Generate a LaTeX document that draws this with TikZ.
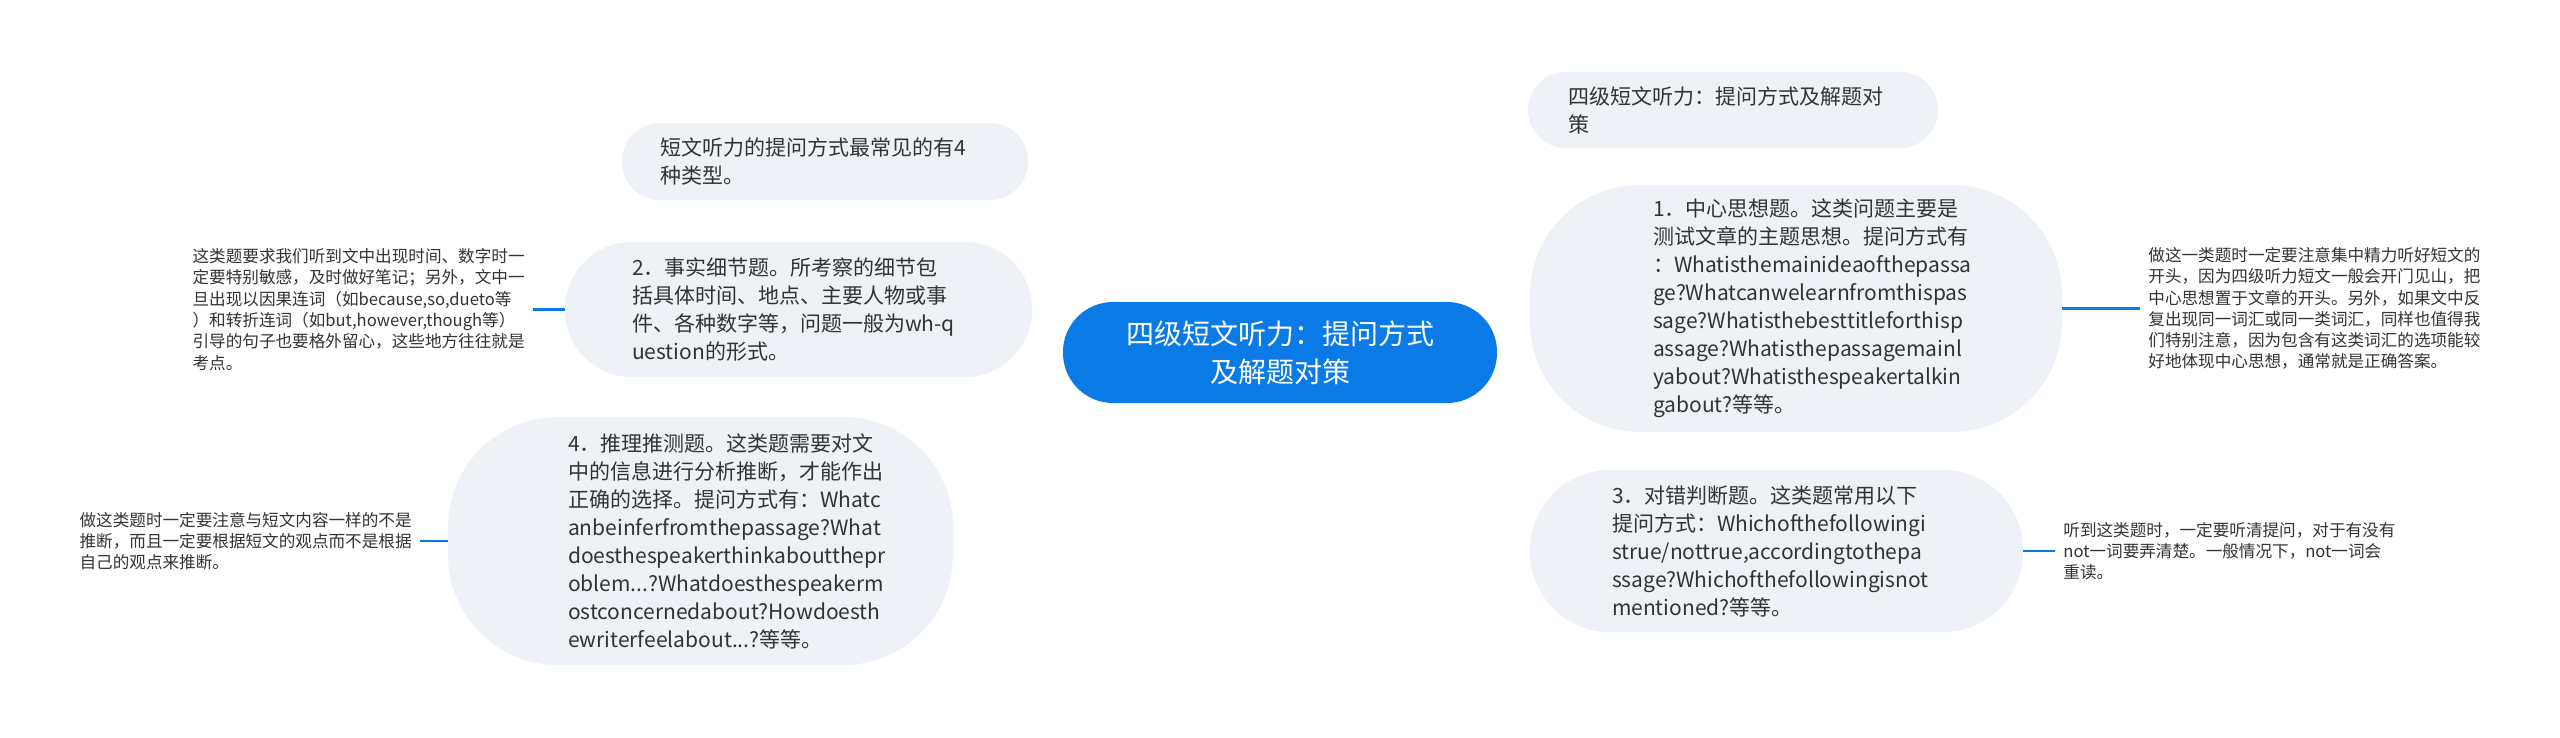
\documentclass[tikz,border=0pt]{standalone}
\usepackage{fontspec}
\setmainfont{Noto Sans CJK SC}
\usepackage{tikz}
\usetikzlibrary{positioning,calc,backgrounds}
\definecolor{mapblue}{HTML}{0A7BE6}
\definecolor{topicgray}{HTML}{EEF1F5}
\definecolor{textdark}{HTML}{333333}

\begin{document}
\begin{tikzpicture}[
    x=1pt, y=-1pt,
    root/.style={rectangle, fill=mapblue, text=white, rounded corners=50pt, minimum width=434pt, minimum height=101pt, align=center, font=\fontsize{28}{38}\selectfont},
    topicbox/.style={rectangle, fill=topicgray, inner sep=0pt},
    topictext/.style={anchor=west, text=textdark, align=left, inner sep=0pt, font=\fontsize{21}{28}\selectfont},
    note/.style={rectangle, text=textdark, align=left, inner xsep=8pt, inner ysep=0pt, font=\fontsize{16.6}{21.3}\selectfont},
    link/.style={draw=mapblue, line width=2.2pt},
]
\useasboundingbox[fill=white] (0,0) rectangle (2560,737);
% Root
\node[root] (root) at (1280,352.5) {四级短文听力：提问方式\\及解题对策};
% Right branch
\node[topicbox, minimum width=410pt, minimum height=76pt, rounded corners=38pt] (title) at (1733,110) {};
\node[topictext, right=40pt of title.west] (titletext) {四级短文听力：提问方式及解题对\\策};
\node[topicbox, minimum width=532pt, minimum height=247pt, rounded corners=110pt] (main) at (1796,308.5) {};
\node[topictext, right=123pt of main.west] (maintext) {1．中心思想题。这类问题主要是\\测试文章的主题思想。提问方式有\\：Whatisthemainideaofthepassa\\ge?Whatcanwelearnfromthispas\\sage?Whatisthebesttitleforthisp\\assage?Whatisthepassagemainl\\yabout?Whatisthespeakertalkin\\gabout?等等。};
\node[topicbox, minimum width=493pt, minimum height=162pt, rounded corners=80pt] (judge) at (1776.5,551) {};
\node[topictext, right=82pt of judge.west] (judgetext) {3．对错判断题。这类题常用以下\\提问方式：Whichofthefollowingi\\strue/nottrue,accordingtothepa\\ssage?Whichofthefollowingisnot\\mentioned?等等。};
% Left branch
\node[topicbox, minimum width=406pt, minimum height=77pt, rounded corners=38pt] (types) at (825,161.5) {};
\node[topictext, right=38pt of types.west] (typestext) {短文听力的提问方式最常见的有4\\种类型。};
\node[topicbox, minimum width=467pt, minimum height=135pt, rounded corners=67pt] (detail) at (798.5,309.5) {};
\node[topictext, right=67pt of detail.west] (detailtext) {2．事实细节题。所考察的细节包\\括具体时间、地点、主要人物或事\\件、各种数字等，问题一般为wh-q\\uestion的形式。};
\node[topicbox, minimum width=505pt, minimum height=248pt, rounded corners=110pt] (infer) at (700.5,541) {};
\node[topictext, right=120pt of infer.west] (infertext) {4．推理推测题。这类题需要对文\\中的信息进行分析推断，才能作出\\正确的选择。提问方式有：Whatc\\anbeinferfromthepassage?What\\doesthespeakerthinkaboutthepr\\oblem...?Whatdoesthespeakerm\\ostconcernedabout?Howdoesth\\ewriterfeelabout...?等等。};
% Notes
\node[note, right=78pt of main] (mainnote) {做这一类题时一定要注意集中精力听好短文的\\开头，因为四级听力短文一般会开门见山，把\\中心思想置于文章的开头。另外，如果文中反\\复出现同一词汇或同一类词汇，同样也值得我\\们特别注意，因为包含有这类词汇的选项能较\\好地体现中心思想，通常就是正确答案。};
\node[note, right=32pt of judge] (judgenote) {听到这类题时，一定要听清提问，对于有没有\\not一词要弄清楚。一般情况下，not一词会\\重读。};
\node[note, left=32pt of detail] (detailnote) {这类题要求我们听到文中出现时间、数字时一\\定要特别敏感，及时做好笔记；另外，文中一\\旦出现以因果连词（如because,so,dueto等\\）和转折连词（如but,however,though等）\\引导的句子也要格外留心，这些地方往往就是\\考点。};
\node[note, left=28pt of infer] (infernote) {做这类题时一定要注意与短文内容一样的不是\\推断，而且一定要根据短文的观点而不是根据\\自己的观点来推断。};

% Connectors
\begin{scope}[on background layer]
\draw[link] (root.center) .. controls ($(root.center)+(20,-200)$) and ($(title.west)+(-150,0)$) .. (title.west);
\draw[link] (root.center) .. controls ($(root.center)+(70,-44)$) and ($(main.west)+(-130,0)$) .. (main.west);
\draw[link] (root.center) .. controls ($(root.center)+(20,200)$) and ($(judge.west)+(-150,0)$) .. (judge.west);
\draw[link] (root.center) .. controls ($(root.center)+(-20,-190)$) and ($(types.east)+(150,0)$) .. (types.east);
\draw[link] (root.center) .. controls ($(root.center)+(-70,-43)$) and ($(detail.east)+(130,0)$) .. (detail.east);
\draw[link] (root.center) .. controls ($(root.center)+(-20,188)$) and ($(infer.east)+(150,0)$) .. (infer.east);
\end{scope}
\draw[link] (main.east) -- (mainnote.west);
\draw[link] (judge.east) -- (judgenote.west);
\draw[link] (detail.west) -- (detailnote.east);
\draw[link] (infer.west) -- (infernote.east);
\end{tikzpicture}
\end{document}
